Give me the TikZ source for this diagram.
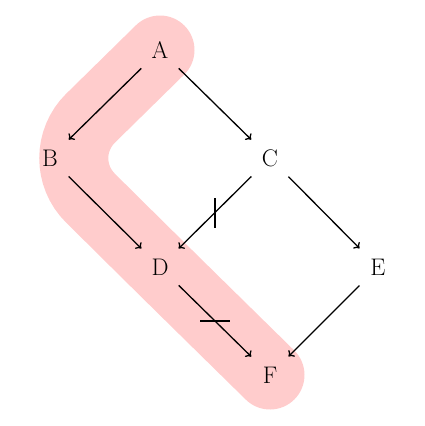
\documentclass[tikz,border=0pt]{standalone}
\usetikzlibrary{arrows.meta}
\begin{document}
\begin{tikzpicture}[x=1pt,y=-1pt,
  obj/.style={circle,minimum size=52pt,inner sep=0pt,font=\fontsize{24}{28}\selectfont},
  arr/.style={line width=1.3pt,-{To[length=5pt,width=9pt]}},
  tick/.style={line width=1.3pt},
  hl/.style={line width=69pt,draw=red!20,line cap=round,rounded corners=57pt}]
\useasboundingbox (0,0) rectangle (425,426);
\coordinate (pa) at (160,50);
\coordinate (pb) at (50,158);
\coordinate (pd) at (160,267);
\coordinate (pf) at (270,375);
\draw[hl] (pa) -- (pb) -- (pd) -- (pf);
\node[obj] (A) at (160,50) {A};
\node[obj] (B) at (50,158) {B};
\node[obj] (C) at (270,158) {C};
\node[obj] (D) at (160,267) {D};
\node[obj] (E) at (378,267) {E};
\node[obj] (F) at (270,375) {F};
\draw[arr] (A) -- (B);
\draw[arr] (A) -- (C);
\draw[arr] (B) -- (D);
\draw[arr] (C) -- (D) coordinate[pos=0.5] (m1);
\draw[arr] (C) -- (E);
\draw[arr] (D) -- (F) coordinate[pos=0.5] (m2);
\draw[arr] (E) -- (F);
\draw[tick] ([yshift=-15pt]m1) -- ([yshift=15pt]m1);
\draw[tick] ([xshift=-15pt]m2) -- ([xshift=15pt]m2);
\end{tikzpicture}
\end{document}
